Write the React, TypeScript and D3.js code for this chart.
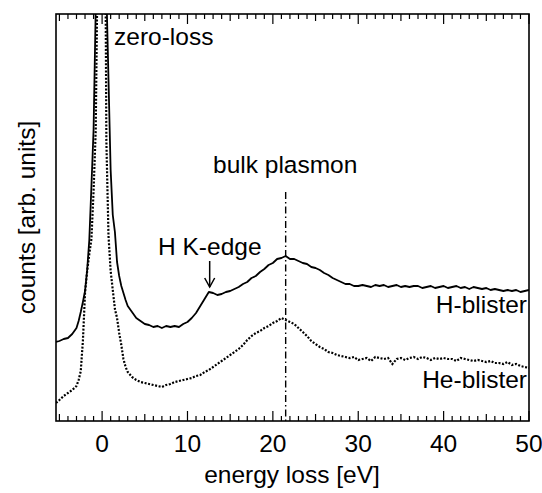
import React from 'react';
import * as d3 from 'd3';

const W = 542;
const H = 493;
const margin = { top: 14, right: 13, bottom: 72, left: 56 };

// energy loss grid [eV]
const energy = [
  -5.4, -5, -4.5, -4, -3.5, -3, -2.75, -2.5, -2.25, -2, -1.75, -1.5, -1.25, -1, -0.75, -0.5, -0.25,
  0, 0.25, 0.5, 0.75, 1, 1.25, 1.5, 1.75, 2, 2.25, 2.5, 2.75, 3, 3.5, 4, 4.5, 5, 5.5, 6, 6.5, 7, 7.5,
  8, 8.5, 9, 9.5, 10, 10.5, 11, 11.5, 12, 12.5, 13, 13.5, 14, 14.5, 15, 15.5, 16, 16.5, 17, 17.5,
  18, 18.5, 19, 19.5, 20, 20.5, 21, 21.5, 22, 22.5, 23, 23.5, 24, 24.5, 25, 25.5, 26, 26.5, 27, 27.5,
  28, 28.5, 29, 29.5, 30, 30.5, 31, 31.5, 32, 32.5, 33, 33.5, 34, 34.5, 35, 35.5, 36, 36.5, 37, 37.5,
  38, 38.5, 39, 39.5, 40, 40.5, 41, 41.5, 42, 42.5, 43, 43.5, 44, 44.5, 45, 45.5, 46, 46.5, 47, 47.5,
  48, 48.5, 49, 49.5, 50,
];

// counts [arb. units], H-blister (solid)
const hBlister = [
  79, 80, 82, 83, 87, 93, 100, 109, 119, 130, 151, 181, 235, 291, 411, 700, 1200,
  1500, 1200, 430, 341, 251, 206, 189, 159, 145, 135, 128, 121, 115, 109, 103, 100, 97, 96, 94, 95, 93, 95,
  94, 95, 94, 97, 99, 103, 108, 115, 122, 129, 128, 126, 127, 129, 130, 132, 134, 137, 139, 143,
  145, 149, 152, 156, 158, 162, 163, 165, 162, 162, 160, 158, 157, 154, 153, 151, 148, 146, 143, 141,
  139, 137, 137, 135, 135, 136, 135, 134, 136, 135, 136, 134, 135, 136, 134, 135, 134, 135, 135, 133,
  134, 135, 133, 134, 135, 133, 134, 135, 133, 134, 132, 134, 133, 132, 133, 131, 132, 131, 130, 131,
  130, 131, 129, 130, 131,
];

// counts [arb. units], He-blister (dotted)
const heBlister = [
  18, 21, 25, 28, 31, 35, 41, 50, 80, 128, 150, 167, 182, 230, 290, 480, 1200,
  1500, 700, 280, 185, 150, 131, 112, 103, 88, 76, 62, 54, 49, 44, 41, 39, 38, 37, 36, 35, 34, 36,
  37, 39, 40, 41, 42, 43, 45, 46, 49, 51, 54, 57, 60, 63, 66, 69, 72, 76, 81, 85,
  88, 90, 93, 95, 98, 100, 103, 101, 99, 97, 93, 89, 85, 80, 77, 74, 72, 69, 68, 66,
  65, 64, 63, 64, 61, 62, 63, 60, 64, 63, 62, 63, 57, 62, 63, 61, 63, 64, 62, 64,
  63, 61, 63, 62, 63, 62, 62, 60, 63, 62, 61, 60, 61, 60, 59, 60, 58, 58, 57, 59,
  56, 57, 55, 54, 53,
];

const xTickLabels = [0, 10, 20, 30, 40, 50];
const plasmonEnergy = 21.5;
const kEdgeEnergy = 12.6;

const font = '"Liberation Sans", Arial, Helvetica, sans-serif';

export default function App() {
  const x = d3.scaleLinear().domain([-5.4, 50]).range([margin.left, W - margin.right]);
  const y = d3.scaleLinear().domain([0, 407]).range([H - margin.bottom, margin.top]);
  const x0 = margin.left;
  const x1 = W - margin.right;
  const y0 = H - margin.bottom;
  const y1 = margin.top;

  const line = d3.line<number>()
    .x((_, i) => x(energy[i]))
    .y(d => y(d));

  const minorTicks = d3.range(-5, 51, 1);
  const tickLen = (v: number) => (v % 10 === 0 ? 10 : v % 5 === 0 ? 7 : 5);

  return (
    <svg width={W} height={H} style={{ position: 'absolute', left: 0, top: 0, background: '#fff' }}
      fontFamily={font}>
      <defs>
        <clipPath id="plot">
          <rect x={x0} y={y1} width={x1 - x0} height={y0 - y1} />
        </clipPath>
      </defs>

      <g clipPath="url(#plot)" fill="none" stroke="#000">
        <path d={line(hBlister) || ''} strokeWidth={1.8} strokeLinejoin="round" />
        <path d={line(heBlister) || ''} strokeWidth={2.2} strokeDasharray="2,1.6" />
        <line x1={x(plasmonEnergy)} x2={x(plasmonEnergy)} y1={y(229)} y2={y(0)}
          strokeWidth={1.4} strokeDasharray="7,3,1.5,3" />
      </g>

      {/* frame */}
      <rect x={x0} y={y1} width={x1 - x0} height={y0 - y1} fill="none" stroke="#000" strokeWidth={1.6} />

      {/* inward ticks, bottom and top */}
      <g stroke="#000" strokeWidth={1.2}>
        {minorTicks.map(v => (
          <g key={v}>
            <line x1={x(v)} x2={x(v)} y1={y0} y2={y0 - tickLen(v)} />
            <line x1={x(v)} x2={x(v)} y1={y1} y2={y1 + tickLen(v)} />
          </g>
        ))}
      </g>

      <g fontSize={24.5} textAnchor="middle" fill="#000">
        {xTickLabels.map(v => (
          <text key={v} x={x(v)} y={452}>{v}</text>
        ))}
      </g>

      <text x={292} y={483} fontSize={24.5} textAnchor="middle">energy loss [eV]</text>
      <text transform={`translate(35,${(y0 + y1) / 2})rotate(-90)`} fontSize={24.5} textAnchor="middle">
        counts [arb. units]
      </text>

      <g fontSize={24.5} fill="#000">
        <text x={114} y={45}>zero-loss</text>
        <text x={213} y={173}>bulk plasmon</text>
        <text x={158} y={255}>H K-edge</text>
        <text x={527} y={313} textAnchor="end">H-blister</text>
        <text x={527} y={388} textAnchor="end">He-blister</text>
      </g>

      {/* K-edge arrow */}
      <g stroke="#000" strokeWidth={1.5} fill="none">
        <line x1={x(kEdgeEnergy)} x2={x(kEdgeEnergy)} y1={y(160)} y2={y(134)} />
        <polyline points={`${x(kEdgeEnergy) - 5},${y(143)} ${x(kEdgeEnergy)},${y(134)} ${x(kEdgeEnergy) + 5},${y(143)}`} />
      </g>
    </svg>
  );
}
